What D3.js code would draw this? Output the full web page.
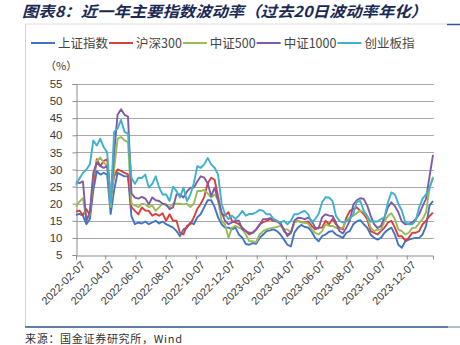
<!DOCTYPE html>
<html>
<head>
<meta charset="utf-8">
<script src="https://cdn.jsdelivr.net/npm/d3@7"></script>
<style>
  body { margin: 0; background: #fff; }
  svg { display: block; }
</style>
</head>
<body>
<svg id="chart" width="460" height="345"></svg>
<script>
// Weekly observations (Mondays), 20-day annualised volatility, in %
const weekStart = new Date(2022, 1, 7);
const weekEnd = new Date(2024, 1, 5);

const seriesNames = ["上证指数", "沪深300", "中证500", "中证1000", "创业板指"];
const seriesColors = ["#3f74c6", "#d8403a", "#9bbb59", "#7d5ba6", "#3fb0cd"];

const shangzheng = [
  16.7, 17.0, 16.5, 14.0, 15.5, 24.0, 29.5, 28.5, 29.0, 28.5,
  17.0, 24.0, 29.0, 28.5, 28.0, 28.0, 16.3, 14.0, 14.5, 14.2,
  14.8, 14.0, 14.5, 15.0, 14.2, 14.8, 14.0, 13.5, 13.0, 12.0,
  10.5, 12.5, 13.0, 14.5, 14.0, 16.0, 17.0, 19.0, 21.0, 21.0,
  19.0, 16.0, 14.0, 13.0, 13.0, 12.5, 13.0, 11.0, 10.0, 8.2,
  8.0, 8.5, 8.3, 10.0, 11.0, 12.0, 12.2, 12.5, 12.0, 11.0,
  9.5, 8.0, 7.5, 11.5, 13.0, 13.8, 13.2, 13.0, 11.8, 10.0,
  9.0, 10.5, 11.0, 11.8, 12.0, 11.0, 10.5, 10.0, 11.5, 12.0,
  14.0, 14.8, 15.2, 14.0, 13.0, 11.0, 10.0, 9.5, 10.0, 11.5,
  12.4, 13.0, 11.0, 8.0, 7.1, 9.0, 9.5, 9.8, 10.0, 10.0,
  11.0, 13.5, 19.5, 20.8
];

const hushen300 = [
  17.7, 18.0, 16.7, 18.4, 16.7, 26.0, 33.0, 31.0, 32.5, 33.0,
  22.0, 28.0, 30.0, 29.6, 29.0, 28.6, 19.0, 17.9, 16.9, 18.9,
  18.0, 17.9, 16.5, 17.0, 16.5, 17.2, 15.0, 16.9, 15.0, 15.0,
  11.5, 11.0, 13.5, 14.0, 16.0, 18.5, 20.0, 22.0, 26.0, 27.6,
  27.0, 22.0, 17.0, 16.5, 17.5, 15.0, 14.5, 14.0, 13.0, 12.0,
  11.0, 11.5, 12.5, 14.0, 14.6, 15.0, 15.5, 15.0, 14.8, 14.5,
  12.0, 11.0, 11.5, 14.5, 15.0, 14.6, 14.5, 14.8, 13.5, 12.5,
  13.0, 13.0, 15.0, 14.0, 15.5, 14.0, 13.0, 12.5, 15.9, 17.9,
  18.4, 18.9, 17.9, 17.0, 15.5, 12.0, 11.5, 11.0, 12.0, 13.0,
  14.5, 15.0, 13.0, 10.5, 10.5, 9.2, 10.0, 11.5, 11.5, 12.0,
  14.0, 15.0, 16.4, 17.4
];

const zhongzheng500 = [
  19.1, 20.6, 21.6, 15.2, 17.0, 28.0, 32.5, 33.5, 32.0, 31.0,
  19.0, 30.0, 39.0, 39.5, 38.5, 38.0, 20.0, 19.5, 19.0, 20.0,
  19.8, 19.0, 19.5, 17.9, 19.0, 20.0, 19.5, 19.0, 20.0, 20.0,
  20.0, 19.8, 20.0, 19.0, 20.0, 23.7, 23.7, 24.0, 23.0, 21.8,
  22.7, 21.0, 15.0, 14.0, 10.0, 13.0, 13.5, 13.0, 12.5, 11.0,
  9.0, 9.0, 8.8, 11.0, 12.0, 12.5, 12.8, 13.0, 13.2, 13.5,
  12.5, 12.5, 11.5, 14.5, 15.0, 14.5, 14.5, 14.2, 12.5, 11.5,
  11.0, 12.0, 14.0, 13.5, 13.5, 13.0, 12.5, 13.0, 15.0, 16.0,
  16.5, 17.2, 18.0, 17.5, 16.4, 13.0, 12.0, 12.4, 12.5, 14.8,
  16.4, 17.2, 15.5, 12.5, 12.0, 11.0, 11.5, 12.9, 13.0, 14.3,
  15.5, 17.5, 24.5, 27.9
];

const zhongzheng1000 = [
  26.4, 26.0, 26.5, 15.0, 17.5, 29.0, 32.0, 31.0, 30.5, 31.0,
  20.6, 35.0, 46.0, 47.6, 46.0, 45.5, 23.0, 21.8, 21.5, 22.0,
  21.5, 19.8, 21.8, 21.0, 20.8, 20.0, 19.8, 18.4, 18.9, 22.7,
  22.7, 21.8, 23.5, 24.7, 24.7, 26.5, 28.0, 27.6, 26.0, 22.2,
  24.7, 21.0, 17.5, 15.0, 14.0, 14.5, 15.0, 15.0, 12.5, 12.0,
  11.5, 11.5, 12.5, 13.8, 15.5, 15.5, 15.8, 15.5, 15.0, 14.0,
  12.5, 10.5, 11.5, 15.0, 15.9, 15.8, 15.5, 15.9, 15.0, 13.0,
  12.8, 16.0, 16.9, 16.5, 16.4, 14.5, 12.0, 11.3, 13.0, 15.0,
  19.7, 21.0, 21.6, 21.4, 19.5, 16.5, 14.0, 12.9, 13.5, 16.0,
  19.0, 20.4, 19.3, 17.5, 14.8, 14.0, 14.2, 14.5, 15.5, 16.9,
  19.3, 21.5, 28.0, 34.3
];

const chuangye = [
  25.5, 27.4, 29.0, 30.0, 31.5, 38.5, 37.0, 39.0, 36.5, 35.0,
  20.0, 41.0, 42.0, 44.5, 41.0, 40.5, 27.5, 25.8, 27.6, 27.5,
  28.5, 24.7, 25.8, 28.0, 24.7, 22.7, 22.7, 20.8, 25.0, 23.7,
  21.8, 24.7, 20.8, 22.7, 26.0, 31.0, 30.5, 31.5, 33.4, 31.5,
  30.5, 28.5, 20.0, 16.9, 15.5, 16.5, 15.5, 16.5, 17.9, 16.5,
  17.0, 17.0, 17.5, 18.2, 17.9, 16.9, 16.9, 15.5, 15.0, 14.5,
  15.0, 14.0, 15.0, 16.9, 16.9, 17.5, 17.9, 16.9, 14.5, 15.5,
  17.0, 20.4, 21.9, 21.8, 20.8, 16.5, 15.0, 14.5, 15.0, 15.5,
  17.0, 20.5, 20.8, 18.0, 16.5, 14.8, 14.8, 14.8, 15.5, 16.0,
  20.4, 23.3, 22.7, 20.0, 18.0, 14.5, 14.0, 14.0, 15.0, 18.9,
  21.5, 22.7, 24.6, 27.5
];

const xTickLabels = [
  "2022-02-07", "2022-04-07", "2022-06-07", "2022-08-07", "2022-10-07", "2022-12-07",
  "2023-02-07", "2023-04-07", "2023-06-07", "2023-08-07", "2023-10-07", "2023-12-07"
];
const yTicks = [5, 10, 15, 20, 25, 30, 35, 40, 45, 50, 55];

const titleText = "图表8：近一年主要指数波动率（过去20日波动率年化）";
const unitText = "（%）";
const sourceText = "来源：国金证券研究所，Wind";

const allSeries = [shangzheng, hushen300, zhongzheng500, zhongzheng1000, chuangye];
const weeks = d3.timeMonday.range(weekStart, weekEnd);
const parseDay = d3.timeParse("%Y-%m-%d");

const svg = d3.select("#chart");
const plot = { left: 76, right: 433, top: 84, bottom: 255 };
const cjk = "'Noto Sans CJK SC', 'Liberation Sans', sans-serif";
const latin = "'Liberation Sans', 'Noto Sans CJK SC', sans-serif";

const x = d3.scaleTime()
  .domain([weeks[0], weeks[weeks.length - 1]])
  .range([plot.left, plot.right]);
const y = d3.scaleLinear()
  .domain([d3.min(yTicks), d3.max(yTicks)])
  .range([plot.bottom, plot.top]);

// Outer frame
svg.append("line").attr("x1", 25).attr("x2", 447).attr("y1", 24).attr("y2", 24)
  .attr("stroke", "#dcdcdc").attr("stroke-width", 1);
svg.append("line").attr("x1", 447).attr("x2", 460).attr("y1", 24.5).attr("y2", 24.5)
  .attr("stroke", "#2d5b8c").attr("stroke-width", 1.5);
svg.append("line").attr("x1", 25.5).attr("x2", 25.5).attr("y1", 24).attr("y2", 327)
  .attr("stroke", "#d4d4d4").attr("stroke-width", 1);
svg.append("line").attr("x1", 25).attr("x2", 448).attr("y1", 327).attr("y2", 327)
  .attr("stroke", "#5f7fa3").attr("stroke-width", 2);
svg.append("line").attr("x1", 448).attr("x2", 460).attr("y1", 327).attr("y2", 327)
  .attr("stroke", "#aebfd2").attr("stroke-width", 2);

// Title
svg.append("text")
  .attr("x", 22).attr("y", 17)
  .attr("textLength", 405).attr("lengthAdjust", "spacingAndGlyphs")
  .style("font-family", cjk).style("font-size", "15px")
  .style("font-weight", 700).style("font-style", "italic")
  .attr("fill", "#1b2a55")
  .text(titleText);

// Horizontal gridlines
svg.append("g").selectAll("line")
  .data(yTicks.filter(v => v !== d3.min(yTicks)))
  .join("line")
  .attr("x1", plot.left).attr("x2", plot.right + 1)
  .attr("y1", d => Math.round(y(d)) + 0.5).attr("y2", d => Math.round(y(d)) + 0.5)
  .attr("stroke", "#a9a9a9").attr("stroke-width", 1);

// Y axis
const yAxis = svg.append("g")
  .attr("transform", `translate(${plot.left + 0.5},0)`)
  .call(d3.axisLeft(y).tickValues(yTicks).tickSize(4).tickPadding(10).tickFormat(d3.format("d")));
yAxis.select(".domain").attr("stroke", "#8c8c8c");
yAxis.selectAll(".tick line").attr("stroke", "#8c8c8c");
yAxis.selectAll(".tick text")
  .style("font-family", latin).style("font-size", "11.5px").attr("fill", "#3a3a3a");

// Unit label
svg.append("text")
  .attr("x", 45).attr("y", 70)
  .style("font-family", cjk).style("font-size", "11px").attr("fill", "#3a3a3a")
  .text(unitText);

// X axis
const xAxis = svg.append("g")
  .attr("transform", `translate(0,${plot.bottom + 0.5})`)
  .call(d3.axisBottom(x)
    .tickValues(xTickLabels.map(parseDay))
    .tickSize(4)
    .tickFormat(d3.timeFormat("%Y-%m-%d")));
xAxis.select(".domain").attr("stroke", "#8c8c8c");
xAxis.selectAll(".tick line").attr("stroke", "#8c8c8c");
xAxis.selectAll(".tick text")
  .style("font-family", latin).style("font-size", "11px").attr("fill", "#3a3a3a")
  .attr("text-anchor", "end")
  .attr("dx", "0.2em").attr("dy", "0.35em")
  .attr("transform", "translate(0,4) rotate(-45)");

// Series lines
const line = d3.line()
  .x((d, i) => x(weeks[i]))
  .y(d => y(d));
svg.append("g").selectAll("path")
  .data(allSeries)
  .join("path")
  .attr("d", line)
  .attr("fill", "none")
  .attr("stroke", (d, i) => seriesColors[i])
  .attr("stroke-width", 1.9)
  .attr("stroke-linejoin", "round");

// Legend
const legend = svg.append("g");
let lx = 31;
seriesNames.forEach((name, i) => {
  legend.append("line")
    .attr("x1", lx).attr("x2", lx + 24).attr("y1", 43).attr("y2", 43)
    .attr("stroke", seriesColors[i]).attr("stroke-width", 2);
  const t = legend.append("text")
    .attr("x", lx + 27).attr("y", 47.5)
    .style("font-family", cjk).style("font-size", "12.5px").attr("fill", "#454545")
    .text(name);
  lx += 27 + t.node().getComputedTextLength() + 1;
});

// Source note
svg.append("text")
  .attr("x", 25).attr("y", 343)
  .attr("textLength", 157).attr("lengthAdjust", "spacing")
  .style("font-family", cjk).style("font-size", "11px").attr("fill", "#333")
  .text(sourceText);
</script>
</body>
</html>
